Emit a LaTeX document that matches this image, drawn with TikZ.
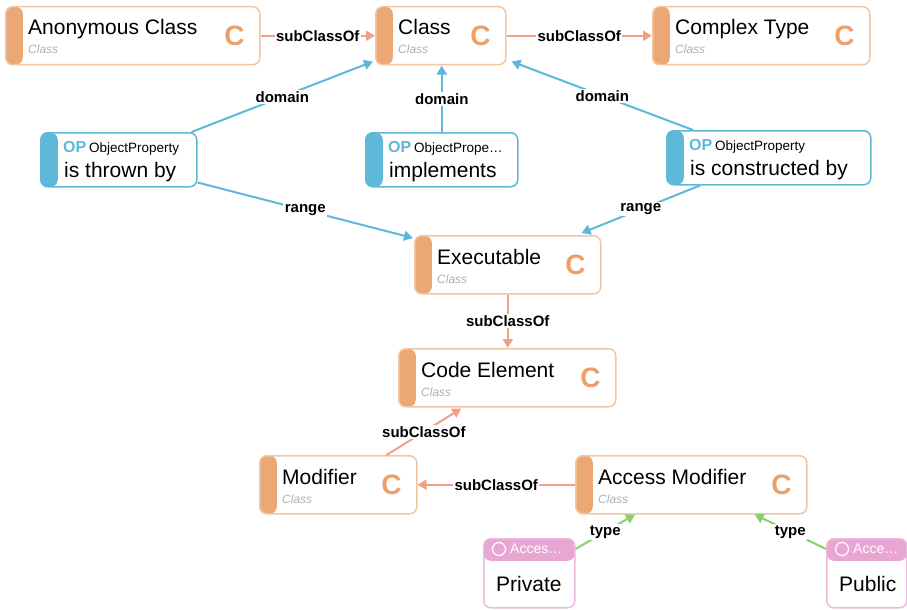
\documentclass[tikz,border=0pt]{standalone}
\usepackage{fontspec}
\setmainfont{Liberation Sans}
\usetikzlibrary{arrows.meta}

\definecolor{clsstripe}{HTML}{EBA874}
\definecolor{clsborder}{HTML}{F2C6A0}
\definecolor{clsmark}{HTML}{EBA06A}
\definecolor{subc}{HTML}{F0A088}
\definecolor{opblue}{HTML}{5EB8D8}
\definecolor{indpink}{HTML}{E9A6D3}
\definecolor{indborder}{HTML}{EDB8DE}
\definecolor{typegreen}{HTML}{88D068}
\definecolor{subgray}{HTML}{B0B0B0}

\tikzset{
  box/.style={rounded corners=7pt, line width=1.5pt, fill=white,
    inner sep=0pt, anchor=north west},
  clsbox/.style={box, draw=clsborder, minimum height=58pt,
    path picture={\fill[clsstripe] (path picture bounding box.north west)
      rectangle ([xshift=17pt]path picture bounding box.south west);}},
  opbox/.style={box, draw=opblue, minimum height=54pt,
    path picture={\fill[opblue] (path picture bounding box.north west)
      rectangle ([xshift=17pt]path picture bounding box.south west);}},
  indbox/.style={box, draw=indborder, minimum height=69pt,
    path picture={\fill[indpink] (path picture bounding box.north west)
      rectangle ([yshift=-22pt]path picture bounding box.north east);}},
  ttl/.style={anchor=base west, inner sep=0pt, font=\fontsize{21}{24}\selectfont},
  subttl/.style={anchor=base west, inner sep=0pt, text=subgray,
    font=\fontsize{12}{14}\selectfont\itshape},
  cmark/.style={anchor=center, inner sep=0pt, text=clsmark,
    font=\fontsize{28}{30}\selectfont\bfseries},
  optag/.style={anchor=base west, inner sep=0pt},
  indcirc/.style={circle, draw=white, line width=1.2pt, minimum size=13pt, inner sep=0pt},
  indtag/.style={anchor=west, inner sep=0pt, text=white, font=\fontsize{14}{16}\selectfont},
  subedge/.style={draw=subc, line width=2pt, -{Triangle[width=10pt,length=9pt]}},
  opedge/.style={draw=opblue, line width=2pt, -{Triangle[width=10pt,length=9pt]}},
  typeedge/.style={draw=typegreen, line width=2pt, -{Triangle[width=10pt,length=9pt]}},
  elabel/.style={fill=white, inner sep=1.5pt, font=\fontsize{15}{17}\selectfont\bfseries},
}

% class: name, left, top, width, title
\newcommand{\clsnode}[5]{%
  \node[clsbox, minimum width=#4pt] (#1) at (#2,#3) {};
  \node[ttl] (#1-t) at ([shift={(23pt,-29pt)}]#1.north west) {#5};
  \node[subttl] (#1-s) at ([shift={(23pt,-48pt)}]#1.north west) {Class};
  \node[cmark] (#1-c) at ([xshift=-26pt]#1.east) {C};
}
% object property: name, left, top, width, type text, title
\newcommand{\opnode}[6]{%
  \node[opbox, minimum width=#4pt] (#1) at (#2,#3) {};
  \node[optag] (#1-k) at ([shift={(23pt,-20pt)}]#1.north west)
    {{\fontsize{16}{18}\selectfont\bfseries\color{opblue}OP} {\fontsize{13.5}{16}\selectfont #5}};
  \node[ttl] (#1-t) at ([shift={(24pt,-45pt)}]#1.north west) {#6};
}
% individual: name, left, top, width, type text, title
\newcommand{\indnode}[6]{%
  \node[indbox, minimum width=#4pt] (#1) at (#2,#3) {};
  \node[indcirc] (#1-o) at ([shift={(16pt,-11pt)}]#1.north west) {};
  \node[indtag] (#1-h) at ([shift={(27pt,-11pt)}]#1.north west) {#5};
  \node[ttl] (#1-t) at ([shift={(13pt,-53pt)}]#1.north west) {#6};
}

\begin{document}
\begin{tikzpicture}[x=1pt, y=-1pt]
  \useasboundingbox (0,0) rectangle (907,610);

  % classes
  \clsnode{anon}{5}{6}{254}{Anonymous Class}
  \clsnode{cls}{375}{6}{130}{Class}
  \clsnode{cplx}{652}{6}{217}{Complex Type}
  \clsnode{exec}{414}{235}{186}{Executable}
  \clsnode{code}{398}{348}{217}{Code Element}
  \clsnode{mod}{259}{455}{157}{Modifier}
  \clsnode{am}{575}{455}{231}{Access Modifier}

  % object properties
  \opnode{thrown}{40}{132}{156}{ObjectProperty}{is thrown by}
  \opnode{impl}{365}{132}{152}{ObjectPrope…}{implements}
  \opnode{constr}{666}{130}{204}{ObjectProperty}{is constructed by}

  % individuals
  \indnode{priv}{483}{538}{91}{Acces…}{Private}
  \indnode{pub}{826}{538}{80}{Acce…}{Public}

  % subclass links
  \draw[subedge] (anon) -- node[elabel] {subClassOf} (cls);
  \draw[subedge] (cls) -- node[elabel] {subClassOf} (cplx);
  \draw[subedge] (exec.south) -- node[elabel] {subClassOf} (exec.south |- code.north);
  \draw[subedge] ([xshift=-31pt]mod.north east) -- node[elabel] {subClassOf}
    ([shift={(-46pt,-1pt)}]code.south);
  \draw[subedge] (am) -- node[elabel] {subClassOf} (mod);

  % domains and ranges
  \draw[opedge] ([xshift=-6pt]thrown.north east) -- node[elabel] {domain}
    ([shift={(-2pt,4pt)}]cls.south west);
  \draw[opedge] (impl.north) -- node[elabel] {domain} (impl.north |- cls.south);
  \draw[opedge] ([xshift=27pt]constr.north west) -- node[elabel] {domain}
    ([shift={(5pt,4pt)}]cls.south east);
  \draw[opedge] ([yshift=5pt]thrown.south east) -- node[elabel] {range}
    ([shift={(-1pt,-3pt)}]exec.north west);
  \draw[opedge] ([xshift=34pt]constr.south west) -- node[elabel] {range}
    ([shift={(-20pt,2pt)}]exec.north east);

  % instance links
  \draw[typeedge] ([yshift=-11pt]priv.north east) -- node[elabel] {type}
    ([xshift=60pt]am.south west);
  \draw[typeedge] ([yshift=-11pt]pub.north west) -- node[elabel] {type}
    ([xshift=-53pt]am.south east);
\end{tikzpicture}
\end{document}
